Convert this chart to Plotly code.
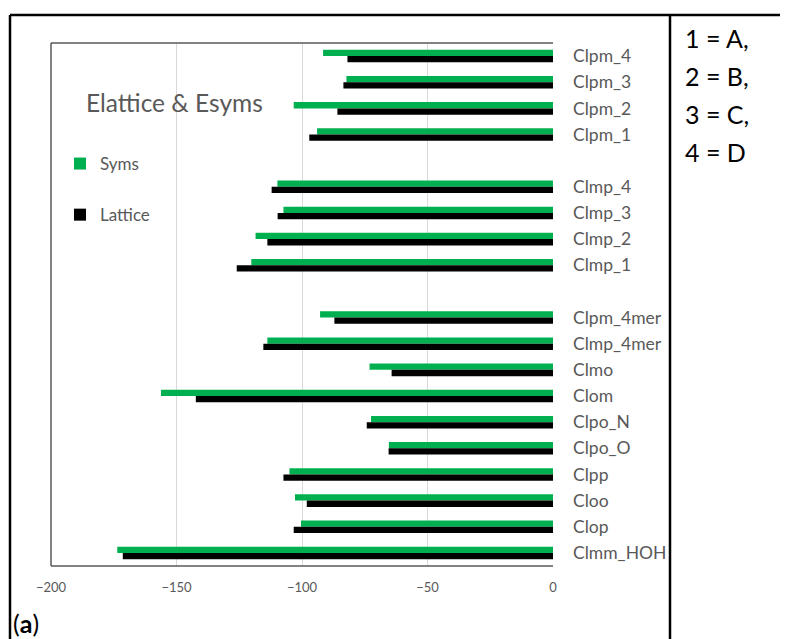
import plotly.graph_objects as go

categories = ["Clpm_4", "Clpm_3", "Clpm_2", "Clpm_1", " ",
              "Clmp_4", "Clmp_3", "Clmp_2", "Clmp_1", "  ",
              "Clpm_4mer", "Clmp_4mer", "Clmo", "Clom", "Clpo_N", "Clpo_O",
              "Clpp", "Cloo", "Clop", "Clmm_HOH"]
syms = [-91.6, -82.3, -103.3, -94.0, None,
        -109.8, -107.4, -118.5, -120.2, None,
        -92.8, -113.8, -73.1, -156.2, -72.5, -65.4,
        -105.0, -102.8, -100.4, -173.6]
lattice = [-81.9, -83.5, -85.9, -97.1, None,
           -112.1, -109.7, -113.8, -126.0, None,
           -87.1, -115.4, -64.3, -142.3, -74.2, -65.5,
           -107.4, -98.1, -103.3, -171.4]
x_ticks = [-200, -150, -100, -50, 0]
title_text = "Elattice & Esyms"
key_lines = ["1 = A,", "2 = B,", "3 = C,", "4 = D"]
panel_label = "(<b>a</b>)"

# the page adds an 8px body margin; work in window pixels and shift
OFF = 8
WIN_W, WIN_H = 788, 639
W, H = WIN_W - OFF, WIN_H - OFF
L, R, T, B = 51, 553, 43, 566          # plot area in window pixels
FONT = "Lato"
GREY = "#595959"

def px(x):
    return (x - L) / (R - L)

def py(y):
    return (B - y) / (B - T)

fig = go.Figure()
fig.add_trace(go.Bar(y=categories, x=syms, orientation="h", name="Syms",
                     marker=dict(color="#00B050", line=dict(width=0)), legendgroup="a"))
fig.add_trace(go.Bar(y=categories, x=lattice, orientation="h", name="Lattice",
                     marker=dict(color="#000000", line=dict(width=0)), legendgroup="b"))

fig.update_layout(
    width=W, height=H,
    margin=dict(l=L - OFF, r=WIN_W - R, t=T - OFF, b=WIN_H - B, pad=0),
    paper_bgcolor="white", plot_bgcolor="white",
    barmode="group", bargap=0.52, bargroupgap=0,
    font=dict(family=FONT, color=GREY),
    showlegend=True,
    legend=dict(x=px(60), y=py(146), xanchor="left", yanchor="top",
                bgcolor="rgba(0,0,0,0)", font=dict(size=17, color=GREY, family=FONT),
                traceorder="grouped", tracegroupgap=26, itemwidth=30),
    xaxis=dict(range=[-200, 0], tickvals=x_ticks, showgrid=True, gridcolor="#D9D9D9",
               gridwidth=1, zeroline=False, showline=False, ticks="",
               tickfont=dict(size=13, color=GREY, family=FONT), ticklabelstandoff=12),
    yaxis=dict(type="category", categoryorder="array", categoryarray=categories,
               autorange="reversed", side="right", showgrid=False, zeroline=False,
               showline=False, ticks="", tickfont=dict(size=17.5, color=GREY, family=FONT),
               ticklabelstandoff=19),
)

shapes = [
    dict(type="line", xref="paper", yref="paper", x0=0, x1=0, y0=0, y1=1,
         line=dict(color=GREY, width=1.5)),
    dict(type="line", xref="paper", yref="paper", x0=0, x1=1, y0=1, y1=1,
         line=dict(color=GREY, width=1.5)),
    dict(type="line", xref="paper", yref="paper", x0=0, x1=1, y0=0, y1=0,
         line=dict(color=GREY, width=1.5)),
    dict(type="line", xref="paper", yref="paper", x0=px(10), x1=px(WIN_W + 5), y0=py(15), y1=py(15),
         line=dict(color="black", width=2.5)),
    dict(type="line", xref="paper", yref="paper", x0=px(10), x1=px(10), y0=py(15), y1=py(WIN_H + 5),
         line=dict(color="black", width=2.5)),
    dict(type="line", xref="paper", yref="paper", x0=px(670), x1=px(670), y0=py(15), y1=py(WIN_H + 5),
         line=dict(color="black", width=2.5)),
]
fig.update_layout(shapes=shapes)

ann = [dict(text=title_text, xref="paper", yref="paper", x=px(84), y=py(102),
            xanchor="left", yanchor="middle", showarrow=False,
            font=dict(size=24.5, color=GREY, family=FONT)),
       dict(text=panel_label, xref="paper", yref="paper", x=px(11), y=py(623),
            xanchor="left", yanchor="middle", showarrow=False,
            font=dict(size=25, color="black", family=FONT))]
for i, t in enumerate(key_lines):
    ann.append(dict(text=t, xref="paper", yref="paper", x=px(683), y=py(38 + 38 * i),
                    xanchor="left", yanchor="middle", showarrow=False,
                    font=dict(size=25, color="black", family=FONT)))
fig.update_layout(annotations=ann)

fig.write_html("out.html")
